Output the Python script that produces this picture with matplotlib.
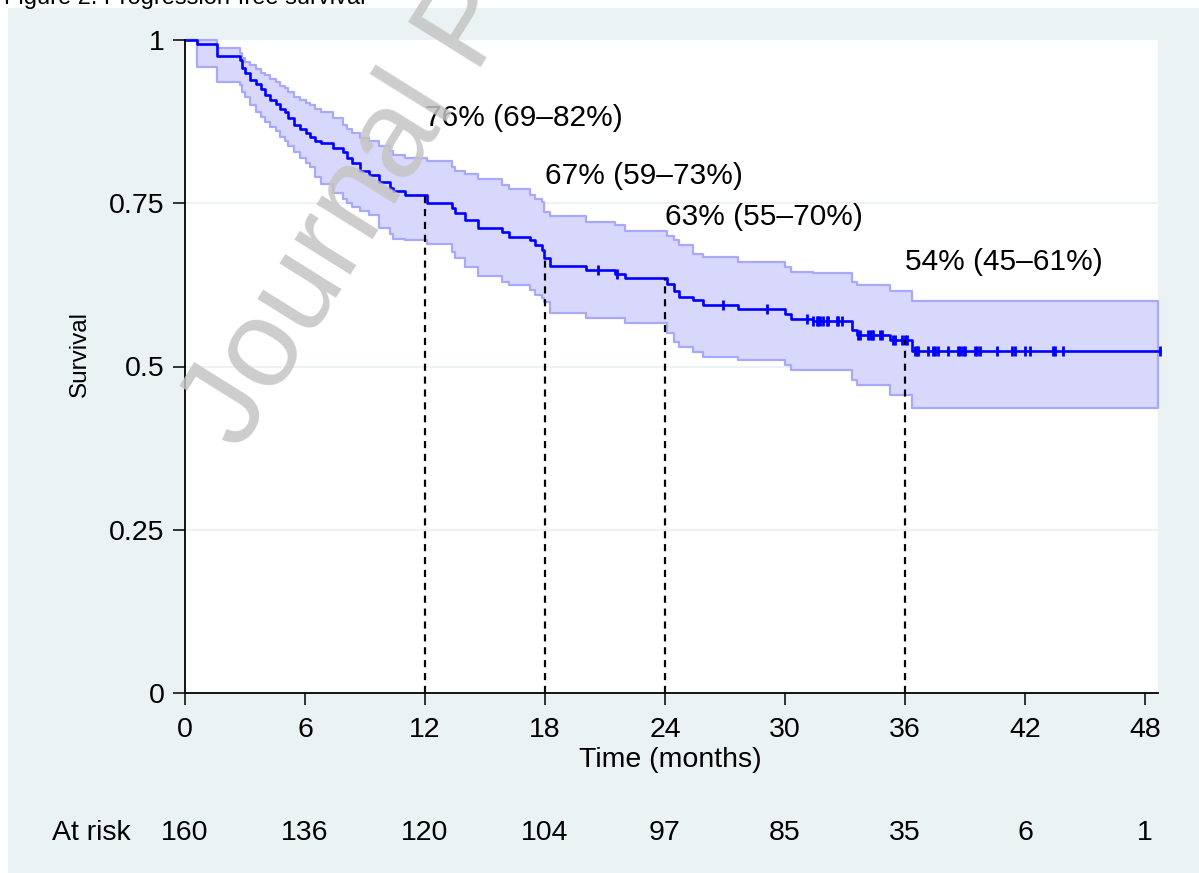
import numpy as np
import matplotlib
matplotlib.use("Agg")
import matplotlib.pyplot as plt
from matplotlib.patches import Rectangle

plt.rcParams['font.family'] = ['Liberation Sans', 'DejaVu Sans']

# ---------------- data ----------------
times = [0.0, 0.62, 1.58, 2.75, 2.85, 3.0, 3.25, 3.55, 3.8, 4.0, 4.25, 4.55, 4.75,
         5.0, 5.17, 5.45, 5.75, 6.05, 6.25, 6.5, 6.8, 7.4, 7.9, 8.1, 8.35, 8.75,
         9.2, 9.7, 10.25, 10.4, 11.0, 12.1, 13.33, 13.5, 14.0, 14.67, 15.83, 16.2,
         17.25, 17.5, 17.83, 17.97, 18.25, 20.05, 21.5, 22.0, 24.1, 24.45, 24.7,
         25.4, 25.9, 27.67, 30.0, 30.3, 31.4, 33.33, 33.6, 35.25, 36.35]
survival = [1.0, 0.994, 0.976, 0.969, 0.957, 0.949, 0.939, 0.932, 0.925, 0.916, 0.908,
            0.902, 0.895, 0.889, 0.880, 0.870, 0.864, 0.858, 0.852, 0.846, 0.842,
            0.835, 0.828, 0.820, 0.812, 0.800, 0.793, 0.783, 0.773, 0.768, 0.763,
            0.750, 0.742, 0.735, 0.724, 0.712, 0.706, 0.699, 0.694, 0.686, 0.678,
            0.666, 0.654, 0.648, 0.641, 0.635, 0.627, 0.615, 0.607, 0.602, 0.594,
            0.588, 0.580, 0.573, 0.569, 0.556, 0.548, 0.541, 0.523]
ci_lower = [1.0, 0.959, 0.936, 0.931, 0.920, 0.913, 0.900, 0.890, 0.882, 0.875, 0.867,
            0.860, 0.852, 0.846, 0.838, 0.828, 0.820, 0.811, 0.805, 0.790, 0.780,
            0.765, 0.757, 0.750, 0.745, 0.738, 0.732, 0.712, 0.703, 0.696, 0.694,
            0.687, 0.675, 0.666, 0.653, 0.638, 0.630, 0.625, 0.617, 0.610, 0.605,
            0.599, 0.582, 0.574, 0.574, 0.567, 0.551, 0.538, 0.530, 0.522, 0.515,
            0.510, 0.503, 0.495, 0.495, 0.480, 0.472, 0.457, 0.437]
ci_upper = [1.0, 1.0, 0.987, 0.980, 0.972, 0.967, 0.962, 0.956, 0.950, 0.946, 0.940,
            0.936, 0.930, 0.926, 0.920, 0.913, 0.908, 0.903, 0.900, 0.895, 0.890,
            0.880, 0.870, 0.864, 0.858, 0.850, 0.845, 0.838, 0.830, 0.824, 0.819,
            0.814, 0.806, 0.800, 0.795, 0.787, 0.778, 0.772, 0.763, 0.757, 0.752,
            0.737, 0.730, 0.722, 0.717, 0.708, 0.700, 0.694, 0.686, 0.673, 0.668,
            0.660, 0.652, 0.645, 0.643, 0.630, 0.625, 0.615, 0.601]
band_end = 48.65
curve_end = 48.75
censor_times = [20.65, 21.58, 26.9, 29.08, 31.08, 31.42, 31.58, 31.67, 31.75, 31.92,
                32.08, 32.17, 32.58, 32.67, 32.83, 33.67, 33.75, 34.17, 34.25, 34.33,
                34.42, 34.75, 34.83, 35.42, 35.5, 35.83, 36.0, 36.08, 36.5, 36.58,
                36.65, 37.17, 37.4, 37.5, 37.65, 38.17, 38.65, 38.75, 38.9, 39.0,
                39.5, 39.6, 39.75, 40.58, 41.33, 41.5, 42.0, 42.25, 43.4, 43.5, 43.9,
                48.75]
milestone_times = [12, 18, 24, 36]
milestone_labels = ["76% (69\u201382%)", "67% (59\u201373%)", "63% (55\u201370%)", "54% (45\u201361%)"]
milestone_label_y = [0.881, 0.792, 0.729, 0.660]
x_ticks = [0, 6, 12, 18, 24, 30, 36, 42, 48]
at_risk = [160, 136, 120, 104, 97, 85, 35, 6, 1]
y_ticks = [0, 0.25, 0.5, 0.75, 1]
y_tick_labels = ["0", "0.25", "0.5", "0.75", "1"]

# ---------------- figure ----------------
W, H = 1199, 873
fig = plt.figure(figsize=(W / 100, H / 100), dpi=100)
fig.patch.set_facecolor('white')
bg = '#eaf2f3'
fig.add_artist(Rectangle((8 / W, 0), 1 - 8 / W, 1 - 8 / H, transform=fig.transFigure,
                         facecolor=bg, edgecolor='none', zorder=-10))

AX_L, AX_R, AX_T, AX_B = 185, 1158, 40, 693
ax = fig.add_axes([AX_L / W, 1 - AX_B / H, (AX_R - AX_L) / W, (AX_B - AX_T) / H])
ax.set_facecolor('white')
ax.set_xlim(0, band_end)
ax.set_ylim(0, 1)

for yv in [0.25, 0.5, 0.75]:
    ax.axhline(yv, color=bg, lw=1.3, zorder=0.5)

t = np.array(times)
s = np.array(survival)
lo = np.array(ci_lower)
hi = np.array(ci_upper)

# confidence band
tb = np.append(t, band_end)
ax.fill_between(tb, np.append(lo, lo[-1]), np.append(hi, hi[-1]), step='post',
                facecolor='#d8d8fc', edgecolor='#a9a9fb', lw=1.6, zorder=1, clip_on=False)

# survival curve
tc = np.append(t, curve_end)
ax.step(tc, np.append(s, s[-1]), where='post', color='#0000ff', lw=1.9, zorder=3,
        clip_on=False)

def surv_at(x):
    idx = np.searchsorted(t, x, side='right') - 1
    return s[idx]

cens = np.array(censor_times)
ax.plot(cens, surv_at(cens), linestyle='none', marker='|', color='#0000ff',
        ms=7.5, mew=2.0, zorder=4, clip_on=False)

# milestone dashed lines and labels
for mt, lab, ly in zip(milestone_times, milestone_labels, milestone_label_y):
    ax.plot([mt, mt], [0, surv_at(mt)], color='black', lw=1.6, ls=(0, (3.2, 2.6)), zorder=5)
    ax.text(mt, ly, lab, ha='left', va='center', fontsize=21.5, color='black', zorder=6)

# axes styling
for side in ['top', 'right']:
    ax.spines[side].set_visible(False)
for side in ['left', 'bottom']:
    ax.spines[side].set_linewidth(1.3)
    ax.spines[side].set_zorder(7)
ax.set_xticks(x_ticks)
ax.set_xticklabels([str(v) for v in x_ticks])
ax.set_yticks(y_ticks)
ax.set_yticklabels(y_tick_labels)
ax.tick_params(axis='both', direction='out', length=8.5, width=1.1, labelsize=20.5)
ax.tick_params(axis='y', pad=6)
ax.tick_params(axis='x', pad=9)

pw, ph = AX_R - AX_L, AX_B - AX_T
ax.text((80 - AX_L) / pw, (AX_B - 354) / ph, 'Survival', transform=ax.transAxes,
        rotation=90, ha='center', va='center', fontsize=17.5, clip_on=False)
ax.text((670 - AX_L) / pw, (AX_B - 760) / ph, 'Time (months)', transform=ax.transAxes,
        ha='center', va='center', fontsize=20.5, clip_on=False)

# at-risk row
tr = ax.get_xaxis_transform()
ry = (AX_B - 833) / ph
for xv, n in zip(x_ticks, at_risk):
    ax.text(xv, ry, str(n), transform=tr, ha='center', va='center', fontsize=20.5,
            clip_on=False)
fig.text(52 / W, 1 - 833 / H, 'At risk', ha='left', va='center', fontsize=20.5)

# partially visible page caption and watermark
fig.text(4 / W, 1 - 4 / H, 'Figure 2. Progression-free survival', ha='left',
         va='baseline', fontsize=17, color='black')
fig.text(240 / W, 1 - 452 / H, 'Journal Pre-proof', rotation=58, rotation_mode='anchor',
         ha='left', va='baseline', fontsize=90, color='#c4c4c4', alpha=0.85, zorder=20)

fig.savefig('out.png', dpi=100)
